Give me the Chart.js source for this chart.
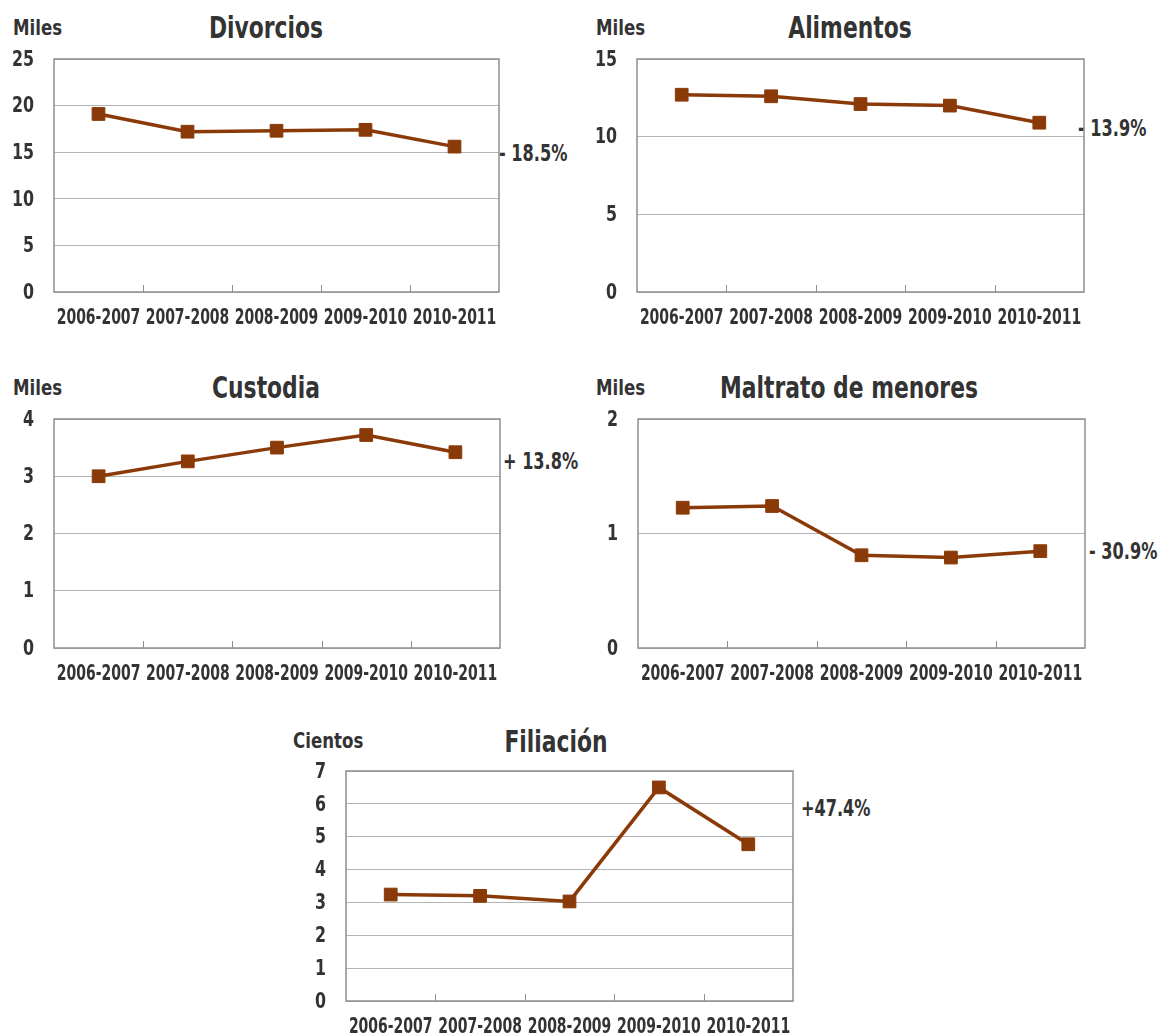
<!DOCTYPE html>
<html>
<head>
<meta charset="utf-8">
<script src="https://cdn.jsdelivr.net/npm/chart.js@4.4.0/dist/chart.umd.min.js"></script>
<style>
  body { margin: 0; background: #fff; width: 1158px; height: 1036px; position: relative; overflow: hidden; }
  canvas { position: absolute; }
  .txt {
    position: absolute; color: #333; font-weight: bold; white-space: nowrap;
    font-family: 'DejaVu Sans Condensed', 'DejaVu Sans', sans-serif;
    line-height: 1; transform-origin: left center;
  }
  .title { font-size: 30px; transform-origin: center center; transform: translate(-50%, -50%) scaleX(0.81); }
  .unit { font-size: 22px; transform: translateY(-50%) scaleX(0.84); }
  .pct { font-size: 23px; transform: translateY(-50%) scaleX(0.78); }
</style>
</head>
<body>

<div class="txt title" style="left:266px; top:28px">Divorcios</div>
<div class="txt unit" style="left:13px; top:28px">Miles</div>
<div class="txt pct" style="left:499px; top:153px">- 18.5%</div>
<canvas id="cDiv"></canvas>

<div class="txt title" style="left:850px; top:28px">Alimentos</div>
<div class="txt unit" style="left:596px; top:28px">Miles</div>
<div class="txt pct" style="left:1078px; top:128px">- 13.9%</div>
<canvas id="cAli"></canvas>

<div class="txt title" style="left:266px; top:388px">Custodia</div>
<div class="txt unit" style="left:13px; top:388px">Miles</div>
<div class="txt pct" style="left:503px; top:461px">+ 13.8%</div>
<canvas id="cCus"></canvas>

<div class="txt title" style="left:849px; top:388px">Maltrato de menores</div>
<div class="txt unit" style="left:596px; top:388px">Miles</div>
<div class="txt pct" style="left:1089px; top:551px">- 30.9%</div>
<canvas id="cMal"></canvas>

<div class="txt title" style="left:556px; top:742px">Filiación</div>
<div class="txt unit" style="left:293px; top:741px">Cientos</div>
<div class="txt pct" style="left:801px; top:808px">+47.4%</div>
<canvas id="cFil"></canvas>

<script>
// Data
const periodos = ['2006-2007', '2007-2008', '2008-2009', '2009-2010', '2010-2011'];

const divorcios = [19.1, 17.2, 17.3, 17.4, 15.6];   // miles
const alimentos = [12.7, 12.6, 12.1, 12.0, 10.9];   // miles
const custodia  = [3.0, 3.26, 3.5, 3.72, 3.42];     // miles
const maltrato  = [1.225, 1.24, 0.81, 0.79, 0.846]; // miles
const filiacion = [3.24, 3.2, 3.03, 6.5, 4.77];     // cientos

// y axis max and step per chart
const yMaxDiv = 25, yStepDiv = 5;
const yMaxAli = 15, yStepAli = 5;
const yMaxCus = 4,  yStepCus = 1;
const yMaxMal = 2,  yStepMal = 1;
const yMaxFil = 7,  yStepFil = 1;

const LINE_COLOR = '#8a3a08';
const FONT = "'DejaVu Sans Condensed', 'DejaVu Sans', sans-serif";

const Y_W = 60, X_H = 45, PAD_T = 14, PAD_R = 4;

// frame around plot area and small inner ticks between categories
const framePlugin = {
    id: 'framePlugin',
    beforeDatasetsDraw(chart) {
        const { ctx, chartArea: a, scales: { x } } = chart;
        ctx.save();
        ctx.strokeStyle = '#8f8f8f';
        ctx.lineWidth = 1.5;
        ctx.strokeRect(a.left, a.top, a.right - a.left, a.bottom - a.top);
        ctx.beginPath();
        for (let i = 1; i < periodos.length; i++) {
            const px = Math.round((x.getPixelForValue(i - 1) + x.getPixelForValue(i)) / 2) + 0.5;
            ctx.moveTo(px, a.bottom);
            ctx.lineTo(px, a.bottom - 7);
        }
        ctx.lineWidth = 1;
        ctx.stroke();
        ctx.restore();
    }
};

// the original uses a narrow bold face, so tick labels are drawn squeezed
const narrowTicks = {
    id: 'narrowTicks',
    afterDraw(chart) {
        const { ctx, chartArea: a, scales: { x, y } } = chart;
        ctx.save();
        ctx.fillStyle = '#333';
        ctx.textBaseline = 'middle';

        ctx.font = 'bold 21px ' + FONT;
        ctx.textAlign = 'center';
        x.ticks.forEach((t, i) => {
            ctx.save();
            ctx.translate(x.getPixelForTick(i), a.bottom + 27);
            ctx.scale(0.74, 1);
            ctx.fillText(x.getLabelForValue(t.value), 0, 0);
            ctx.restore();
        });

        ctx.font = 'bold 22px ' + FONT;
        ctx.textAlign = 'right';
        y.ticks.forEach(t => {
            ctx.save();
            ctx.translate(a.left - 20, y.getPixelForValue(t.value) + 1);
            ctx.scale(0.8, 1);
            ctx.fillText(String(t.value), 0, 0);
            ctx.restore();
        });
        ctx.restore();
    }
};

// plot area in page pixels: left, top, right, bottom
function makeChart(id, values, yMax, yStep, left, top, right, bottom) {
    const canvas = document.getElementById(id);
    canvas.width = (right - left) + Y_W + PAD_R;
    canvas.height = (bottom - top) + PAD_T + X_H;
    canvas.style.left = (left - Y_W) + 'px';
    canvas.style.top = (top - PAD_T) + 'px';

    return new Chart(canvas.getContext('2d'), {
        type: 'line',
        data: {
            labels: periodos,
            datasets: [{
                data: values,
                borderColor: LINE_COLOR,
                backgroundColor: LINE_COLOR,
                borderWidth: 3.5,
                pointStyle: 'rect',
                pointRadius: 9,
                pointBorderWidth: 1,
                pointBorderColor: LINE_COLOR,
                pointBackgroundColor: LINE_COLOR,
                tension: 0,
                fill: false
            }]
        },
        plugins: [framePlugin, narrowTicks],
        options: {
            responsive: false,
            animation: false,
            layout: { autoPadding: false, padding: { top: PAD_T, right: PAD_R, left: 0, bottom: 0 } },
            plugins: { legend: { display: false }, tooltip: { enabled: false } },
            scales: {
                x: {
                    offset: true,
                    grid: { display: false },
                    border: { display: false },
                    ticks: { display: false, autoSkip: false, maxRotation: 0 },
                    afterFit(scale) {
                        scale.height = X_H;
                        scale.paddingLeft = 0;
                        scale.paddingRight = 0;
                    }
                },
                y: {
                    min: 0,
                    max: yMax,
                    grid: { color: '#b4b4b4', lineWidth: 1, drawTicks: false },
                    border: { display: false },
                    ticks: { display: false, stepSize: yStep },
                    afterFit(scale) {
                        scale.width = Y_W;
                        scale.paddingTop = 0;
                        scale.paddingBottom = 0;
                    }
                }
            }
        }
    });
}

makeChart('cDiv', divorcios, yMaxDiv, yStepDiv, 54, 59, 499, 292);
makeChart('cAli', alimentos, yMaxAli, yStepAli, 637, 59, 1084, 292);
makeChart('cCus', custodia, yMaxCus, yStepCus, 54, 419, 500, 648);
makeChart('cMal', maltrato, yMaxMal, yStepMal, 638, 419, 1085, 648);
makeChart('cFil', filiacion, yMaxFil, yStepFil, 346, 771, 793, 1001);
</script>
</body>
</html>
